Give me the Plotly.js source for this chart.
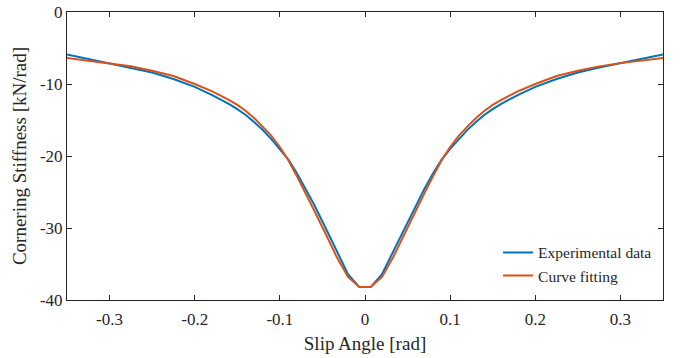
<!DOCTYPE html>
<html>
<head>
<meta charset="utf-8">
<script src="https://cdn.plot.ly/plotly-3.0.1.min.js"></script>
<style>html,body{margin:0;padding:0;background:#fff;}#chart{width:684px;height:358px;}</style>
</head>
<body>
<div id="chart"></div>
<script>
// Slip angle samples (rad), positive half; curves are symmetric about 0
const slipPos = [0.0067, 0.02, 0.0333, 0.0467, 0.06, 0.07, 0.08, 0.09, 0.1, 0.11, 0.12, 0.13, 0.14, 0.15, 0.16, 0.18, 0.2, 0.225, 0.25, 0.275, 0.3, 0.325, 0.35];
// Experimental data (kN/rad)
const expPos = [-38.2, -36.4, -33.2, -29.9, -26.7, -24.5, -22.4, -20.5, -19.0, -17.65, -16.4, -15.3, -14.3, -13.5, -12.75, -11.5, -10.4, -9.3, -8.4, -7.7, -7.1, -6.5, -5.9];
// Curve fitting (kN/rad)
const fitPos = [-38.2, -36.8, -34.0, -30.7, -27.5, -25.1, -22.8, -20.6, -18.75, -17.2, -15.95, -14.75, -13.75, -12.9, -12.2, -11.0, -10.0, -8.9, -8.15, -7.55, -7.1, -6.8, -6.4];

const xTickVals = [-0.3, -0.2, -0.1, 0, 0.1, 0.2, 0.3];
const xTickText = ['-0.3', '-0.2', '-0.1', '0', '0.1', '0.2', '0.3'];
const yTickVals = [-40, -30, -20, -10, 0];
const yTickText = ['-40', '-30', '-20', '-10', '0'];

const seriesNames = ['Experimental data', 'Curve fitting'];

function mirror(xs, ys) {
  const X = [], Y = [];
  for (let i = xs.length - 1; i >= 0; i--) { X.push(-xs[i]); Y.push(ys[i]); }
  for (let i = 0; i < xs.length; i++) { X.push(xs[i]); Y.push(ys[i]); }
  return {X, Y};
}
const e = mirror(slipPos, expPos);
const f = mirror(slipPos, fitPos);

const font = '"Liberation Serif", "Times New Roman", serif';
const axCol = '#262626';

const traces = [
  {x: e.X, y: e.Y, mode: 'lines', name: seriesNames[0], line: {color: '#0072BD', width: 2}},
  {x: f.X, y: f.Y, mode: 'lines', name: seriesNames[1], line: {color: '#D95319', width: 2}}
];

const axisCommon = {
  showline: true, mirror: 'ticks', linecolor: axCol, linewidth: 1,
  ticks: 'inside', ticklen: 5, tickcolor: axCol, tickwidth: 1,
  showgrid: false, zeroline: false,
  tickfont: {family: font, size: 17, color: axCol}
};

const layout = {
  width: 684, height: 358,
  margin: {l: 67, r: 21, t: 12, b: 58},
  paper_bgcolor: '#fff', plot_bgcolor: '#fff',
  font: {family: font, color: axCol},
  showlegend: true,
  legend: {
    x: 0.99, xanchor: 'right', y: 0.025, yanchor: 'bottom',
    bgcolor: 'rgba(255,255,255,0)', borderwidth: 0,
    font: {family: font, size: 15.5, color: axCol},
    tracegroupgap: 0
  },
  xaxis: Object.assign({}, axisCommon, {
    range: [-0.35, 0.35], tickmode: 'array', tickvals: xTickVals, ticktext: xTickText,
    ticklabelstandoff: 4,
    title: {text: 'Slip Angle [rad]', font: {family: font, size: 19, color: axCol}, standoff: 8}
  }),
  yaxis: Object.assign({}, axisCommon, {
    range: [-40, 0], tickmode: 'array', tickvals: yTickVals, ticktext: yTickText,
    title: {text: 'Cornering Stiffness [kN/rad]', font: {family: font, size: 19, color: axCol}, standoff: 8}
  })
};

Plotly.newPlot('chart', traces, layout, {staticPlot: true, displayModeBar: false});
</script>
</body>
</html>
